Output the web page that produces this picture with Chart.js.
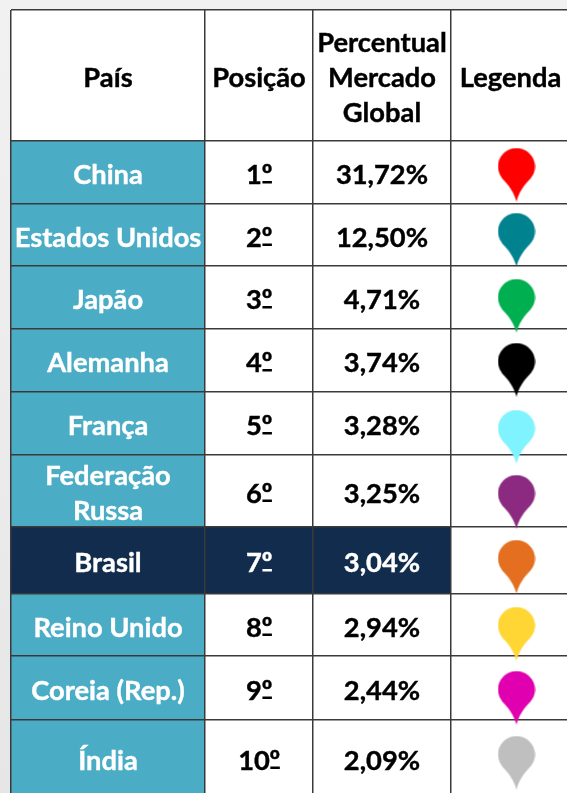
<!DOCTYPE html>
<html>
<head>
<meta charset="utf-8">
<script src="https://cdn.jsdelivr.net/npm/chart.js@4"></script>
<style>
html, body { margin: 0; padding: 0; background: linear-gradient(#f1f1f1, #e6e6e6); }
#wrap { width: 567px; height: 793px; position: relative; }
</style>
</head>
<body>
<div id="wrap"><canvas id="tabela"></canvas></div>
<script>
var headers = [['País'], ['Posição'], ['Percentual', 'Mercado', 'Global'], ['Legenda']];
var paises = [['China'], ['Estados Unidos'], ['Japão'], ['Alemanha'], ['França'], ['Federação', 'Russa'], ['Brasil'], ['Reino Unido'], ['Coreia (Rep.)'], ['Índia']];
var posicoes = ['1º', '2º', '3º', '4º', '5º', '6º', '7º', '8º', '9º', '10º'];
var percentuais = ['31,72%', '12,50%', '4,71%', '3,74%', '3,28%', '3,25%', '3,04%', '2,94%', '2,44%', '2,09%'];
var pinColors = ['#ff0000', '#00828f', '#00b050', '#000000', '#7ff3ff', '#8b2a80', '#e46f20', '#ffd633', '#e000b0', '#bfbfbf'];
var pinY = [174.5, 239.5, 305.5, 369.5, 436.5, 501.5, 566.5, 633.5, 697.5, 762.5];

// table lines, in page pixels; the last column and row run past the page
var colEdges = [11, 205, 313, 451, 570];
var rowEdges = [10, 141, 204, 266, 329, 392, 455, 527, 594, 656, 720, 796];
var pageW = 567, pageH = 793;
var pinX = 516.5;
var brasil = 6;
var textDrop = 3;
var textFont = 'bold 27.3px Lato';
var ordFont = 'bold 27.3px "Liberation Sans"';

function makePin(color) {
    var c = document.createElement('canvas');
    c.width = 38;
    c.height = 54;
    var g = c.getContext('2d');
    g.fillStyle = color;
    g.beginPath();
    g.arc(19, 19, 18.5, Math.PI * 0.8, Math.PI * 0.2);
    g.bezierCurveTo(31, 34, 23, 40, 19, 54);
    g.bezierCurveTo(15, 40, 7, 34, 4, 29.9);
    g.closePath();
    g.fill();
    return c;
}

function boldText(ctx, t, x, y) {
    ctx.strokeStyle = ctx.fillStyle;
    ctx.lineWidth = 0.4;
    ctx.strokeText(t, x, y);
    ctx.fillText(t, x, y);
}

function drawLines(ctx, lines, x, y) {
    var lh = 35;
    var top = y - (lines.length - 1) * lh / 2;
    lines.forEach(function(t, i) {
        boldText(ctx, t, x, top + i * lh);
    });
}

// the numeral comes from Lato, the º from another font, its underline is added by hand
function drawPosicao(ctx, t, x, y) {
    var num = t.slice(0, -1), ord = t.slice(-1);
    ctx.font = textFont;
    var w1 = ctx.measureText(num).width;
    ctx.font = ordFont;
    var w2 = ctx.measureText(ord).width;
    ctx.textAlign = 'left';
    ctx.font = textFont;
    boldText(ctx, num, x - (w1 + w2) / 2, y);
    ctx.font = ordFont;
    boldText(ctx, ord, x - (w1 + w2) / 2 + w1, y);
    ctx.fillRect(x - (w1 + w2) / 2 + w1 + 0.5, y + 5.5, w2 - 0.5, 2.5);
    ctx.font = textFont;
    ctx.textAlign = 'center';
}

var tablePlugin = {
    id: 'tablePlugin',
    beforeDraw: function(chart) {
        var ctx = chart.ctx, xs = chart.scales.x, ys = chart.scales.y;
        ctx.save();
        ctx.fillStyle = '#ffffff';
        ctx.fillRect(xs.left, ys.top, xs.width, ys.height);
        for (var r = 0; r < paises.length; r++) {
            var y0 = ys.getPixelForValue(rowEdges[r + 1]);
            var y1 = ys.getPixelForValue(rowEdges[r + 2]);
            ctx.fillStyle = r === brasil ? '#122c4d' : '#4bacc6';
            var x1 = xs.getPixelForValue(colEdges[r === brasil ? 3 : 1]);
            ctx.fillRect(xs.left, y0, x1 - xs.left, y1 - y0);
        }
        ctx.restore();
    },
    afterDatasetsDraw: function(chart) {
        var ctx = chart.ctx, xs = chart.scales.x, ys = chart.scales.y;
        var colMid = function(c) { return xs.getPixelForValue((colEdges[c] + colEdges[c + 1]) / 2); };
        ctx.save();
        ctx.font = textFont;
        ctx.textAlign = 'center';
        ctx.textBaseline = 'middle';
        ctx.fillStyle = '#000000';
        headers.forEach(function(h, c) {
            drawLines(ctx, h, colMid(c), ys.getPixelForValue((rowEdges[0] + rowEdges[1]) / 2) + textDrop);
        });
        paises.forEach(function(p, r) {
            var y = ys.getPixelForValue((rowEdges[r + 1] + rowEdges[r + 2]) / 2) + textDrop;
            ctx.fillStyle = '#ffffff';
            drawLines(ctx, p, colMid(0), y);
            ctx.fillStyle = r === brasil ? '#ffffff' : '#000000';
            drawPosicao(ctx, posicoes[r], colMid(1), y);
            boldText(ctx, percentuais[r], colMid(2), y);
        });
        ctx.restore();
    }
};

function edgeAxis(edges, max, reverse) {
    return {
        type: 'linear',
        min: edges[0],
        max: max,
        reverse: reverse,
        afterBuildTicks: function(scale) {
            // last edge is cut by the page, no line there
            scale.ticks = edges.slice(0, -1).map(function(v) { return { value: v }; });
        },
        grid: { color: '#3a3a3a', lineWidth: 1.5, drawTicks: false },
        border: { display: false },
        ticks: { display: false, autoSkip: false }
    };
}

new Chart(document.getElementById('tabela'), {
    type: 'scatter',
    data: {
        datasets: [{
            data: pinY.map(function(y) { return { x: pinX, y: y }; }),
            pointStyle: pinColors.map(makePin),
            clip: false
        }]
    },
    options: {
        responsive: true,
        maintainAspectRatio: false,
        animation: false,
        layout: { autoPadding: false, padding: { left: colEdges[0], top: rowEdges[0], right: 0, bottom: 0 } },
        plugins: { legend: { display: false }, tooltip: { enabled: false } },
        scales: { x: edgeAxis(colEdges, pageW, false), y: edgeAxis(rowEdges, pageH, true) }
    },
    plugins: [tablePlugin]
});
</script>
</body>
</html>
